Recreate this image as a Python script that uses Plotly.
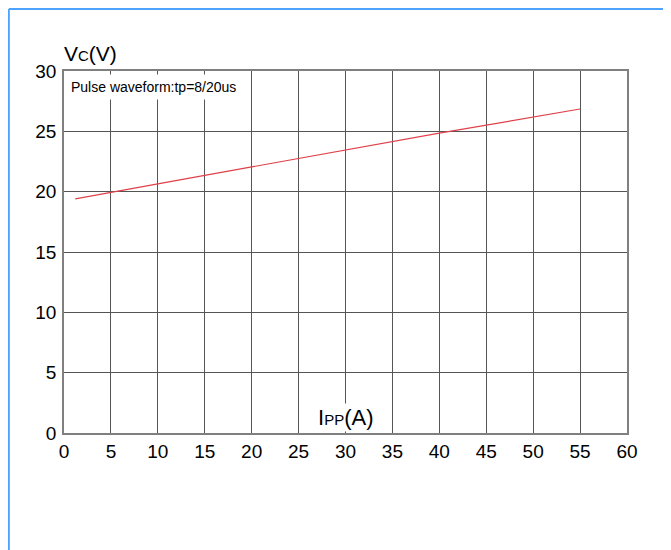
import plotly.graph_objects as go

# Data
ipp = [1.2, 5, 10, 20, 30, 40, 55]
vc = [19.4, 19.95, 20.65, 22.05, 23.45, 24.85, 26.85]

x_ticks = [0, 5, 10, 15, 20, 25, 30, 35, 40, 45, 50, 55, 60]
y_ticks = [0, 5, 10, 15, 20, 25, 30]

FONT = "Liberation Sans, Arial, sans-serif"
GRID = "#555555"
FRAME = "#808080"
BLUE = "#4da3ff"

fig = go.Figure()
fig.add_trace(go.Scatter(
    x=ipp, y=vc, mode="lines",
    line=dict(color="#e0404a", width=1.2),
    showlegend=False, hoverinfo="skip",
))

fig.update_layout(
    width=663, height=542,
    margin=dict(l=56, r=44, t=63, b=117),
    paper_bgcolor="white", plot_bgcolor="white",
    font=dict(family=FONT, color="black"),
    xaxis=dict(
        range=[0, 60], tickvals=x_ticks, ticktext=[str(v) for v in x_ticks],
        showgrid=True, gridcolor=GRID, gridwidth=1,
        showline=True, linecolor=FRAME, linewidth=1.5, mirror=True,
        zeroline=False, ticks="", ticklabelstandoff=0,
        tickfont=dict(size=19, family=FONT, color="black"),
    ),
    yaxis=dict(
        range=[0, 30], tickvals=y_ticks, ticktext=[str(v) for v in y_ticks],
        showgrid=True, gridcolor=GRID, gridwidth=1,
        showline=True, linecolor=FRAME, linewidth=1.5, mirror=True,
        zeroline=False, ticks="", ticklabelstandoff=2,
        tickfont=dict(size=19, family=FONT, color="black"),
    ),
    annotations=[
        dict(
            text="Pulse waveform:tp=8/20us",
            xref="paper", yref="paper", x=0.004, y=0.993,
            xanchor="left", yanchor="top", showarrow=False,
            font=dict(size=14, family=FONT, color="black"),
            bgcolor="white", borderpad=4,
        ),
        dict(
            text="I<span style='font-size:15px'>PP</span>(A)",
            xref="x", yref="paper", x=30, y=0.003,
            xanchor="center", yanchor="bottom", showarrow=False,
            font=dict(size=22, family=FONT, color="black"),
            bgcolor="white", borderpad=1,
        ),
        dict(
            text="V<span style='font-size:15px'>C</span>(V)",
            xref="paper", yref="paper", x=-0.004, y=1.01,
            xanchor="left", yanchor="bottom", showarrow=False,
            font=dict(size=21, family=FONT, color="black"),
        ),
    ],
    shapes=[
        dict(type="line", xref="paper", yref="paper",
             x0=-0.098, x1=1.1, y0=1.171, y1=1.171,
             line=dict(color=BLUE, width=2)),
        dict(type="line", xref="paper", yref="paper",
             x0=-0.098, x1=-0.098, y0=1.171, y1=-0.33,
             line=dict(color=BLUE, width=2)),
    ],
)

fig.write_html("out.html")
